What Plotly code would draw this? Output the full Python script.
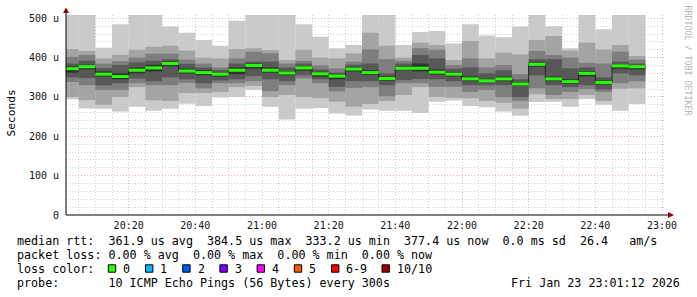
import plotly.graph_objects as go
import pandas as pd

# ---------------- data (microseconds) ----------------
bar_end = pd.date_range("2026-01-23 20:05", "2026-01-23 22:55", freq="5min")

p10 = [512, 512, 425, 485, 512, 512, 479, 463, 445, 430, 494, 512, 512, 512, 485, 453, 424, 432,
       512, 512, 432, 465, 468, 436, 485, 456, 452, 479, 512, 480, 424, 512, 472, 512, 512]
p9 = [422, 417, 398, 407, 420, 428, 430, 418, 400, 398, 422, 424, 419, 394, 420, 400, 398, 411,
      463, 430, 400, 438, 432, 394, 442, 398, 413, 408, 445, 455, 418, 438, 421, 432, 404]
p8 = [402, 407, 385, 391, 400, 410, 410, 395, 385, 375, 398, 415, 411, 385, 392, 380, 373, 390,
      421, 396, 392, 424, 420, 381, 398, 375, 381, 358, 417, 407, 400, 387, 385, 415, 395]
p7 = [385, 392, 373, 381, 388, 392, 396, 384, 375, 368, 385, 390, 390, 375, 385, 370, 362, 382,
      385, 360, 385, 407, 398, 372, 375, 360, 368, 345, 396, 396, 373, 375, 350, 390, 385]
p6 = [378, 382, 365, 360, 375, 382, 390, 372, 368, 362, 375, 385, 375, 366, 378, 364, 357, 376,
      368, 352, 378, 385, 370, 363, 352, 346, 352, 338, 388, 352, 345, 365, 342, 383, 381]
median = [372, 377, 358, 352, 368, 374, 385, 366, 362, 358, 368, 380, 368, 361, 374, 359, 353, 371,
          362, 347, 373, 373, 363, 358, 346, 341, 346, 333, 383, 346, 339, 360, 337, 379, 377]
p5 = [362, 370, 352, 345, 360, 365, 378, 360, 355, 352, 358, 372, 362, 355, 367, 352, 345, 365,
      356, 342, 368, 365, 357, 352, 340, 337, 340, 328, 377, 340, 333, 352, 332, 372, 370]
p4 = [350, 348, 330, 335, 347, 340, 350, 345, 335, 342, 345, 353, 345, 340, 355, 345, 326, 340,
      340, 330, 343, 346, 345, 340, 330, 330, 330, 300, 355, 330, 325, 330, 319, 360, 355]
p3 = [338, 330, 318, 318, 335, 330, 330, 336, 322, 335, 335, 340, 315, 330, 347, 335, 314, 323,
      325, 302, 335, 335, 326, 326, 313, 318, 300, 290, 322, 305, 313, 320, 313, 335, 340]
p2 = [300, 292, 280, 300, 325, 292, 290, 310, 310, 313, 325, 328, 300, 305, 300, 297, 288, 275,
      282, 290, 305, 325, 300, 298, 297, 290, 285, 270, 307, 295, 295, 305, 290, 321, 322]
p1 = [294, 271, 270, 263, 275, 265, 270, 283, 277, 299, 300, 318, 275, 243, 270, 272, 258, 253,
      268, 265, 265, 259, 288, 291, 277, 274, 263, 252, 287, 288, 275, 295, 280, 265, 282]

y_tick_vals = [0, 100, 200, 300, 400, 500]
y_tick_text = ["0", "100 u", "200 u", "300 u", "400 u", "500 u"]

loss_labels = ["0", "1", "2", "3", "4", "5", "6-9", "10/10"]
loss_colors = ["#26ff00", "#00b8ff", "#0059ff", "#7e00ff", "#ff00ff", "#ff5500", "#ff0000", "#a10000"]

legend_lines = [
    "median rtt:  361.9 us avg  384.5 us max  333.2 us min  377.4 us now  0.0 ms sd  26.4   am/s",
    "packet loss: 0.00 % avg  0.00 % max  0.00 % min  0.00 % now",
    "loss color:",
    "probe:       10 ICMP Echo Pings (56 Bytes) every 300s",
]
stamp = "Fri Jan 23 23:01:12 2026"

# ---------------- geometry ----------------
W, H = 697, 297
L, R, T, B = 66, 666, 15, 215
STEP = pd.Timedelta(minutes=5)
t0 = pd.Timestamp("2026-01-23 20:01:12")
t1 = pd.Timestamp("2026-01-23 23:01:12")


def ax(px):
    return (px - L) / (R - L)


def ay(py):
    return (B - py) / (B - T)


mono = "DejaVu Sans Mono"
fig = go.Figure()

centers = [t - STEP / 2 for t in bar_end]
lows = [p1, p2, p3, p4, p5]
highs = [p10, p9, p8, p7, p6]
shades = ["#cacaca", "#a4a4a4", "#7e7e7e", "#585858", "#323232"]
for lo, hi, col in zip(lows, highs, shades):
    fig.add_trace(go.Bar(
        x=centers, y=[h - l for h, l in zip(hi, lo)], base=lo,
        width=STEP.total_seconds() * 1000, marker=dict(color=col, line=dict(width=0)),
        hoverinfo="skip", showlegend=False))

# thin dark median step line
starts = [t - STEP for t in bar_end]
fig.add_trace(go.Scatter(
    x=starts + [bar_end[-1]], y=median + [median[-1]], mode="lines",
    line=dict(color="#202020", width=1, shape="hv"), hoverinfo="skip", showlegend=False))

# green median segments (loss 0)
gx, gy = [], []
for s, e, m in zip(starts, bar_end, median):
    gx += [s, e, None]
    gy += [m, m, None]
fig.add_trace(go.Scatter(x=gx, y=gy, mode="lines", line=dict(color=loss_colors[0], width=3),
                         hoverinfo="skip", showlegend=False))

# dummy trace for the overlay grid subplot
fig.add_trace(go.Scatter(x=[t0], y=[0], xaxis="x2", yaxis="y2", mode="markers",
                         marker=dict(opacity=0), hoverinfo="skip", showlegend=False))

grid_minor = "rgba(110,110,110,0.32)"
grid_major = "rgba(210,40,40,0.35)"
gdash = "1px,2px"

fig.update_layout(
    width=W, height=H,
    margin=dict(l=L, r=W - R, t=T, b=H - B),
    paper_bgcolor="white", plot_bgcolor="white",
    barmode="overlay", showlegend=False,
    xaxis=dict(type="date", range=[t0, t1], dtick=20 * 60 * 1000, tick0="2026-01-23 20:00",
               tickformat="%H:%M", showgrid=False, zeroline=False, showline=False,
               ticks="outside", ticklen=1, tickcolor="rgba(0,0,0,0)",
               tickfont=dict(family=mono, size=10, color="#111")),
    yaxis=dict(range=[0, 508.4], tickvals=y_tick_vals, ticktext=y_tick_text,
               showgrid=False, zeroline=False, showline=False,
               ticks="outside", ticklen=4, tickcolor="rgba(0,0,0,0)",
               tickfont=dict(family=mono, size=10, color="#111")),
    xaxis2=dict(type="date", overlaying="x", range=[t0, t1], dtick=20 * 60 * 1000,
                tick0="2026-01-23 20:00", showticklabels=False, zeroline=False, showline=False,
                showgrid=True, gridcolor=grid_major, griddash=gdash, gridwidth=1,
                minor=dict(dtick=5 * 60 * 1000, tick0="2026-01-23 20:00", showgrid=True,
                           gridcolor=grid_minor, griddash=gdash, gridwidth=1)),
    yaxis2=dict(overlaying="y", range=[0, 508.4], dtick=100, tick0=0, showticklabels=False,
                zeroline=False, showline=False, showgrid=True, gridcolor=grid_major,
                griddash=gdash, gridwidth=1,
                minor=dict(dtick=20, showgrid=True, gridcolor=grid_minor, griddash=gdash,
                           gridwidth=1)),
)

shapes = []
# axis lines
shapes.append(dict(type="line", xref="paper", yref="paper", x0=ax(66), x1=ax(670),
                   y0=ay(215), y1=ay(215), line=dict(color="black", width=1), layer="above"))
shapes.append(dict(type="line", xref="paper", yref="paper", x0=ax(66), x1=ax(66),
                   y0=ay(215), y1=ay(11), line=dict(color="black", width=1), layer="above"))
# arrows
arrow = "#9a0000"
shapes.append(dict(type="path", xref="paper", yref="paper",
                   path=f"M {ax(66)},{ay(7.5)} L {ax(63)},{ay(13)} L {ax(69)},{ay(13)} Z",
                   fillcolor=arrow, line=dict(color=arrow, width=0), layer="above"))
shapes.append(dict(type="path", xref="paper", yref="paper",
                   path=f"M {ax(674)},{ay(215)} L {ax(668)},{ay(212)} L {ax(668)},{ay(218)} Z",
                   fillcolor=arrow, line=dict(color=arrow, width=0), layer="above"))

annotations = []


def text(px, py, s, size=11.7, anchor="left", color="black", family=mono, angle=0):
    annotations.append(dict(xref="paper", yref="paper", x=ax(px), y=ay(py),
                            text=s.replace(" ", "\u00a0"), showarrow=False,
                            xanchor=anchor, yanchor="middle", textangle=angle,
                            font=dict(family=family, size=size, color=color), borderpad=0))


line_y = [241, 255, 269, 282.5]
for s, yy in zip(legend_lines, line_y):
    text(16, yy, s)
text(681, line_y[3], stamp, anchor="right")

# loss colour swatches
sq_x = [108.3, 145.5, 182.7, 219.9, 257.1, 294.3, 331.5, 382.0]
for xx, lab, col in zip(sq_x, loss_labels, loss_colors):
    shapes.append(dict(type="rect", xref="paper", yref="paper", x0=ax(xx), x1=ax(xx + 7.4),
                       y0=ay(272.2), y1=ay(264.8), fillcolor=col,
                       line=dict(color="black", width=1), layer="above"))
    text(xx + 13.8, line_y[2], lab)

text(11, 113.5, "Seconds", size=11.2)
annotations[-1]["textangle"] = -90
text(687.5, 60, "RRDTOOL / TOBI OETIKER", size=8.3, color="#b4b4b4")
annotations[-1]["textangle"] = 90
for a in annotations[-2:]:
    a["xanchor"] = "center"

fig.update_layout(shapes=shapes, annotations=annotations)
fig.write_html("out.html")
